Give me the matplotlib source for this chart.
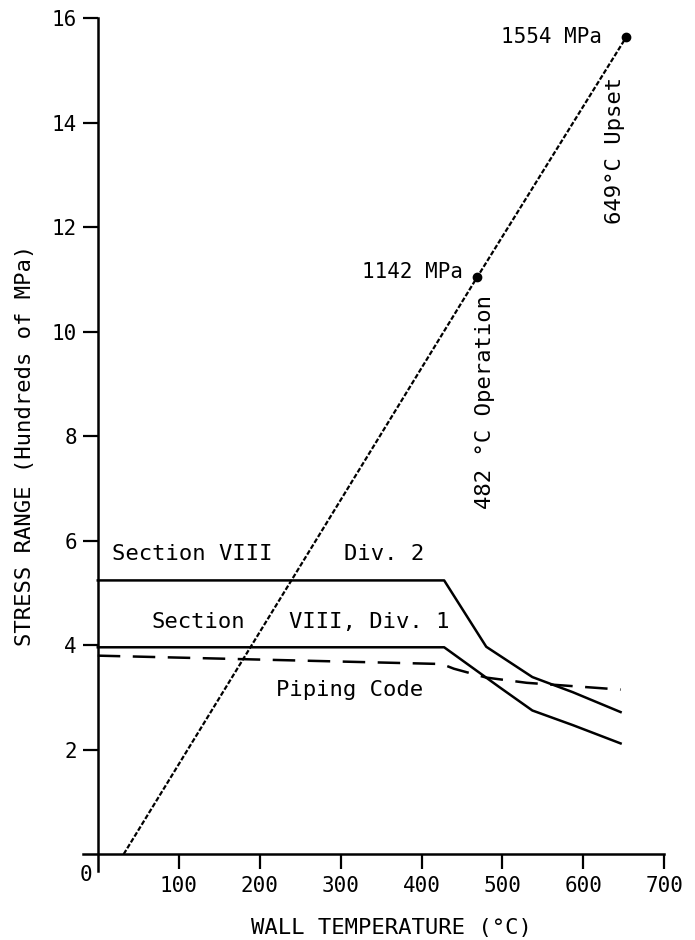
import matplotlib.pyplot as plt

# thermal stress line (dotted diagonal) and the two marked points
thermal_t = [32, 469, 653]
thermal_s = [0.0, 11.05, 15.64]
mark_t = [469, 653]
mark_s = [11.05, 15.64]

# code allowables (hundreds of MPa)
div2_t = [0, 428, 480, 537, 587, 646]
div2_s = [5.24, 5.24, 3.97, 3.39, 3.10, 2.72]

div1_t = [0, 428, 496, 537, 587, 646]
div1_s = [3.96, 3.96, 3.20, 2.75, 2.47, 2.12]

pipe_t = [0, 425, 440, 480, 530, 646]
pipe_s = [3.80, 3.64, 3.55, 3.38, 3.28, 3.15]

xticks = [100, 200, 300, 400, 500, 600, 700]
yticks = [2, 4, 6, 8, 10, 12, 14, 16]

font = 'DejaVu Sans Mono'
plt.rcParams['font.family'] = font

fig = plt.figure(figsize=(6.95, 9.4), dpi=100)
ax = fig.add_axes([83.2 / 695, 68.6 / 940, (664.3 - 83.2) / 695, (921.7 - 68.6) / 940])

ax.plot(thermal_t, thermal_s, color='black', lw=1.6, dashes=(2.2, 0.9))
ax.plot(mark_t, mark_s, 'o', color='black', ms=6)
ax.plot(div2_t, div2_s, color='black', lw=1.8)
ax.plot(div1_t, div1_s, color='black', lw=1.8)
ax.plot(pipe_t, pipe_s, color='black', lw=1.8, dashes=(9, 5))

ax.set_xlim(-18, 700)
ax.set_ylim(-0.33, 16)
ax.spines['left'].set_position(('data', 0))
ax.spines['bottom'].set_position(('data', 0))
ax.spines['top'].set_visible(False)
ax.spines['right'].set_visible(False)
for s in ['left', 'bottom']:
    ax.spines[s].set_linewidth(1.8)

ax.set_xticks(xticks)
ax.set_yticks(yticks)
ax.tick_params(direction='out', length=11, width=1.6, labelsize=15, pad=4)
ax.tick_params(axis='x', pad=5)

ax.text(-15, -0.4, '0', fontsize=15, ha='center', va='center', clip_on=False)

fig.text(391 / 695, 1 - 928 / 940, 'WALL TEMPERATURE (°C)', fontsize=16,
         ha='center', va='center')
fig.text(25 / 695, 1 - 445 / 940, 'STRESS RANGE (Hundreds of MPa)', fontsize=16,
         ha='center', va='center', rotation=90)

ax.text(17, 5.75, 'Section VIII', fontsize=16, ha='left', va='center')
ax.text(304, 5.75, 'Div. 2', fontsize=16, ha='left', va='center')
ax.text(66, 4.45, 'Section', fontsize=16, ha='left', va='center')
ax.text(236, 4.45, 'VIII, Div. 1', fontsize=16, ha='left', va='center')
ax.text(220, 3.15, 'Piping Code', fontsize=16, ha='left', va='center')
ax.text(451, 11.15, '1142 MPa', fontsize=15, ha='right', va='center')
ax.text(623, 15.65, '1554 MPa', fontsize=15, ha='right', va='center')
ax.text(478, 8.65, '482 °C Operation', fontsize=16, ha='center', va='center',
        rotation=90)
ax.text(639, 13.47, '649°C Upset', fontsize=16, ha='center', va='center',
        rotation=90)

fig.savefig('out.png', dpi=100)
